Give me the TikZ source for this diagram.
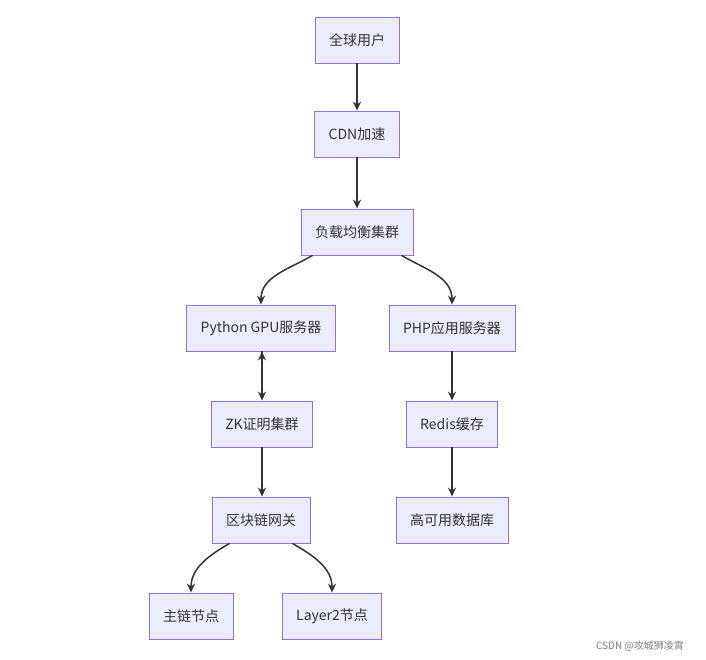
\documentclass[tikz,border=0pt]{standalone}
\usepackage{fontspec}
\setmainfont{Noto Sans CJK SC}
\usetikzlibrary{positioning,arrows.meta}
\definecolor{boxfill}{HTML}{ECECFF}
\definecolor{boxline}{HTML}{9370DB}
\definecolor{edgecol}{HTML}{333333}
\begin{document}
\begin{tikzpicture}[x=1pt,y=1pt,>={Stealth[length=9pt,width=8pt]},
                    thick,
                    box/.style={rectangle,fill=boxfill,draw=boxline,line width=0.8pt,
                      minimum height=46pt,inner xsep=14pt,font=\fontsize{14}{16}\selectfont,text=edgecol},
                    link/.style={->,draw=edgecol,line width=1.5pt}
                   ]
  \useasboundingbox (0,0) rectangle (706,-659);

  \node[box] (users) at (357,-40) {全球用户};
  \node[box] (cdn) at (357,-134) {CDN加速};
  \node[box] (lb) at (357,-232) {负载均衡集群};
  \node[box] (py) at (261,-328) {Python GPU服务器};
  \node[box] (php) at (452,-328) {PHP应用服务器};
  \node[box] (zk) at (262,-424) {ZK证明集群};
  \node[box] (redis) at (452,-424) {Redis缓存};
  \node[box] (gw) at (261,-520) {区块链网关};
  \node[box] (db) at (452,-520) {高可用数据库};
  \node[box] (main) at (191,-616) {主链节点};
  \node[box] (l2) at (332,-616) {Layer2节点};

  \path[link] (users) edge (cdn)
              (cdn) edge (lb)
              (py.south -| zk) edge (zk)
              (zk) edge (zk |- gw.north)
              (php) edge (redis)
              (redis) edge (db);
  \draw[link] ([xshift=12pt]lb.south west) to[out=-150,in=90] (py.north);
  \draw[link] ([xshift=-12pt]lb.south east) to[out=-30,in=90] (php.north);
  \draw[link] ([xshift=18pt]gw.south west) to[out=-150,in=90] (main.north);
  \draw[link] ([xshift=-18pt]gw.south east) to[out=-30,in=90] (l2.north);

  \node[text=gray,font=\fontsize{10}{12}\selectfont] (mark) at (640,-646) {CSDN @攻城狮凌霄};
\end{tikzpicture}
\end{document}
